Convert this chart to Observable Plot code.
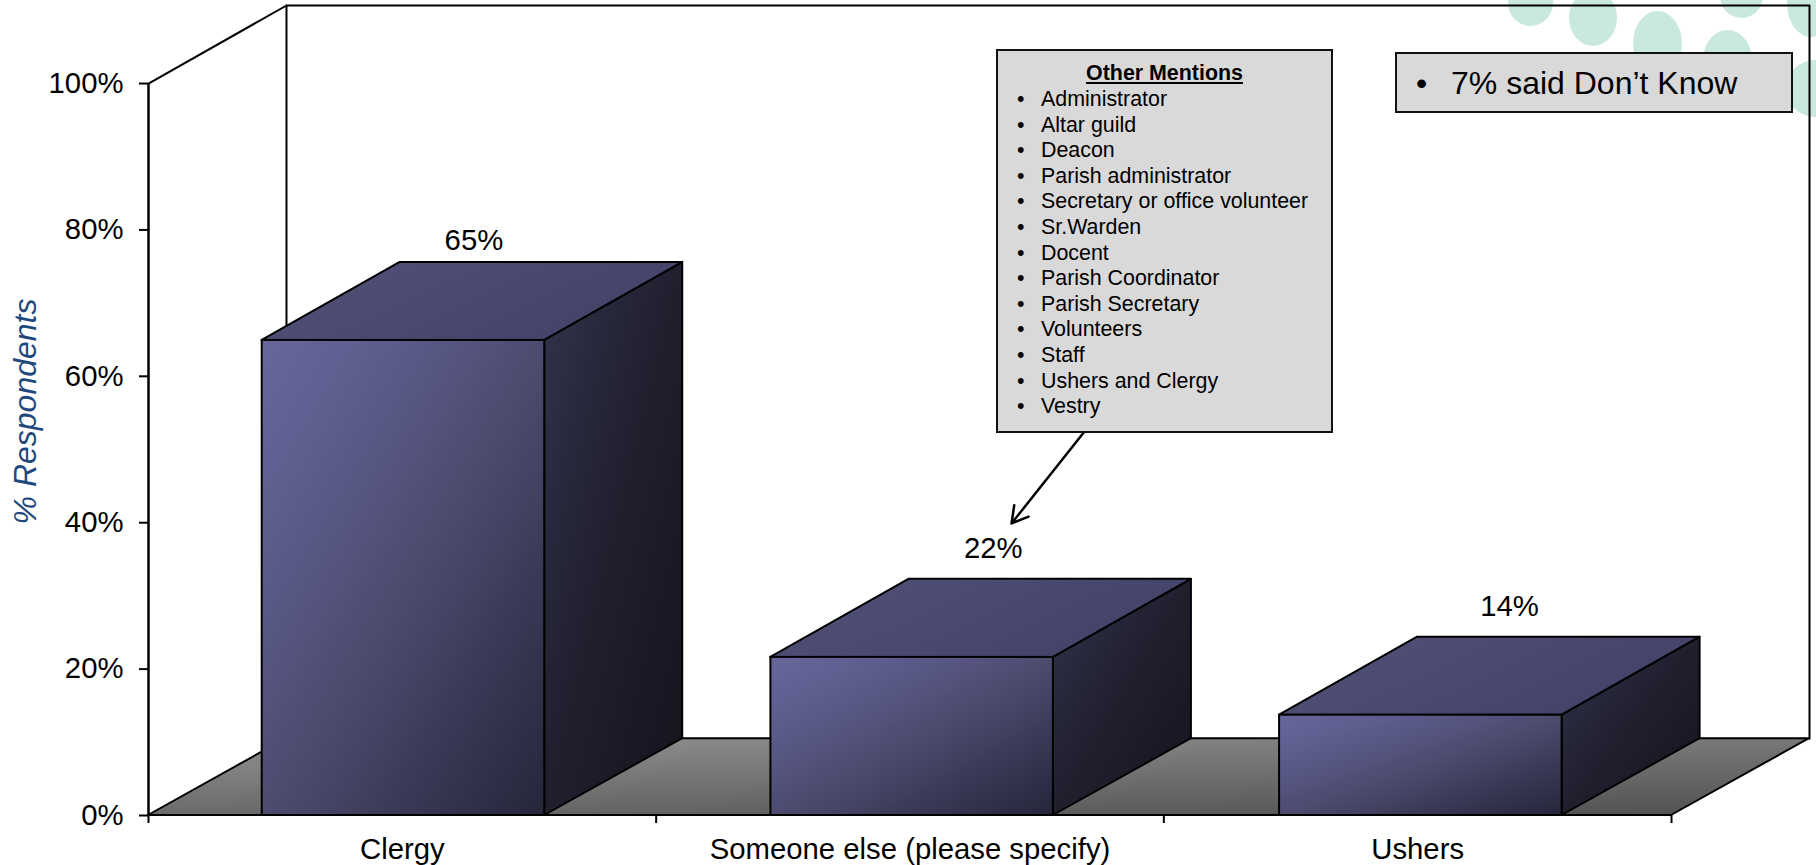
<!DOCTYPE html>
<html>
<head>
<meta charset="utf-8">
<script src="https://cdn.jsdelivr.net/npm/d3@7"></script>
<script src="https://cdn.jsdelivr.net/npm/@observablehq/plot@0.6"></script>
<style>
html,body{margin:0;padding:0;background:#fff;width:1816px;height:865px;overflow:hidden;font-family:"Liberation Sans",Arial,sans-serif;}
#stage{position:relative;width:1816px;height:865px;overflow:hidden;}
#chart{position:absolute;left:0;top:0;}
.blob{position:absolute;background:#c9e9dd;border-radius:50%;filter:blur(.6px);}
.box{position:absolute;box-sizing:border-box;background:#d9d9d9;border:2px solid #111;color:#000;}
#others{left:996px;top:49px;width:337px;height:384px;font-size:21.4px;}
#others .ttl{position:absolute;left:0;right:0;top:10px;text-align:center;font-weight:bold;text-decoration:underline;line-height:25.6px;}
#others .row{position:absolute;left:43px;white-space:nowrap;line-height:25.6px;}
#others .row::before{content:"•";position:absolute;left:-24px;}
#dk{left:1395px;top:52px;width:398px;height:61px;font-size:32px;line-height:59px;white-space:nowrap;}
#dk .b{position:absolute;left:19px;}
#dk .t{position:absolute;left:54px;}
</style>
</head>
<body>
<div id="stage"></div>
<script>
const categories = ["Clergy", "Someone else (please specify)", "Ushers"];
const shares = [64.9, 21.6, 13.7];
const labelX = [0.641, 1.664, 2.681];
const labelY = [78.6, 36.4, 28.5];
const yTicks = [0, 20, 40, 60, 80, 100];
const xTicks = [0, 1, 2, 3];
const mentions = ["Administrator", "Altar guild", "Deacon", "Parish administrator", "Secretary or office volunteer", "Sr.Warden", "Docent", "Parish Coordinator", "Parish Secretary", "Volunteers", "Staff", "Ushers and Clergy", "Vestry"];
const depthX = 0.2718, depthY = 10.66, floorDepthY = 10.5, barStart = 0.224, barStep = 1.002, barWidth = 0.5565;
const arrowFrom = [1.843, 52.4], arrowTo = [1.70, 39.9];

const stage = d3.select("#stage");
// decorative background blobs
[[1508,-20,45,46],[1569,-10,48,56],[1633,11,49,65],[1703,30,49,60],[1720,-25,43,43],[1787,-30,48,67],[1786,60,58,57]].forEach(([l,t,w,h]) => {
  stage.append("div").attr("class","blob").style("left",l+"px").style("top",t+"px").style("width",w+"px").style("height",h+"px");
});

const bars = shares.map((v,i)=>({i,v,x1:i*barStep+barStart,x2:i*barStep+barStart+barWidth,cat:categories[i],lx:labelX[i],ly:labelY[i]}));
const sidePts = bars.flatMap(b=>[
  {bar:b.i,x:b.x2,y1:0,y2:b.v},
  {bar:b.i,x:b.x2+depthX,y1:floorDepthY,y2:b.v+depthY}]);
const topPts = bars.flatMap(b=>[
  {bar:b.i,y:b.v,x1:b.x1,x2:b.x2},
  {bar:b.i,y:b.v+depthY,x1:b.x1+depthX,x2:b.x2+depthX}]);
const floorPts = [{y:0,x1:0,x2:3},{y:floorDepthY,x1:depthX,x2:3+depthX}];
const wallA = [[0,0],[0,100],[depthX,100+depthY],[depthX,floorDepthY]];
const wallB = [[depthX,100+depthY],[3+depthX,100+depthY],[3+depthX,floorDepthY]];

function grad(defs,id,stops,x2=1,y2=1){
  const g = defs.append("linearGradient").attr("id",id).attr("x1",0).attr("y1",0).attr("x2",x2).attr("y2",y2);
  stops.forEach(([o,c])=>g.append("stop").attr("offset",o).attr("stop-color",c));
}
const defsMark = () => {
  const defs = d3.create("svg:defs");
  grad(defs,"gFront",[[0,"#67679b"],[0.25,"#5b5b8b"],[0.5,"#4c4c70"],[1,"#25253a"]]);
  grad(defs,"gSide",[[0,"#33334d"],[0.5,"#1f1f2e"],[1,"#14141e"]]);
  grad(defs,"gTop",[[0,"#525278"],[1,"#43436a"]],1,0.4);
  grad(defs,"gFloor",[[0,"#939393"],[1,"#505050"]],0.763,1.156);
  return defs.node();
};
const ink = "#000";
const chart = Plot.plot({
  width:1816, height:865,
  marginLeft:148, marginRight:7, marginTop:5, marginBottom:50,
  style:{fontFamily:'"Liberation Sans",Arial,sans-serif',background:"transparent",color:"#000",overflow:"visible"},
  x:{domain:[0,3+depthX]},
  y:{domain:[0,100+depthY]},
  marks:[
    defsMark,
    Plot.area(floorPts,{y1:"y",x1:"x1",x2:"x2",fill:"url(#gFloor)",stroke:ink,strokeWidth:2}),
    Plot.line(wallA,{stroke:ink,strokeWidth:2}),
    Plot.line(wallB,{stroke:ink,strokeWidth:2}),
    Plot.ruleX([0],{y1:0,y2:100,stroke:ink,strokeWidth:2}),
    Plot.axisY({ticks:yTicks,tickFormat:d=>d+"%",tickSize:9,tickPadding:16,fontSize:29.3,stroke:ink,strokeWidth:2,label:null,strokeOpacity:1}),
    Plot.axisX({ticks:xTicks,tickFormat:()=>"",tickSize:8,stroke:ink,strokeWidth:2,label:null,strokeOpacity:1}),
    Plot.area(sidePts,{x1:"x",y1:"y1",y2:"y2",z:"bar",fill:"url(#gSide)",stroke:ink,strokeWidth:2}),
    Plot.area(topPts,{y1:"y",x1:"x1",x2:"x2",z:"bar",fill:"url(#gTop)",stroke:ink,strokeWidth:2}),
    Plot.rect(bars,{x1:"x1",x2:"x2",y1:0,y2:"v",fill:"url(#gFront)",stroke:ink,strokeWidth:2}),
    Plot.text(bars,{x:"lx",y:"ly",text:b=>Math.round(b.v)+"%",fontSize:29.3,fill:ink}),
    Plot.text(bars,{x:b=>b.i+0.5,y:0,text:"cat",dy:34,fontSize:29.3,fill:ink}),
    Plot.text(["% Respondents"],{frameAnchor:"left",textAnchor:"middle",dx:-123,dy:1,rotate:-90,fontSize:32,fontStyle:"italic",fill:"#1f497d"}),
    Plot.arrow([{a:arrowFrom,b:arrowTo}],{x1:d=>d.a[0],y1:d=>d.a[1],x2:d=>d.b[0],y2:d=>d.b[1],stroke:ink,strokeWidth:2.5,headLength:11,bend:0,insetStart:0,insetEnd:0})
  ]
});
chart.id="chart";
stage.node().appendChild(chart);

const oth = stage.append("div").attr("class","box").attr("id","others");
oth.append("div").attr("class","ttl").text("Other Mentions");
mentions.forEach((m,i)=>oth.append("div").attr("class","row").style("top",(36+i*25.6)+"px").text(m));
const dk = stage.append("div").attr("class","box").attr("id","dk");
dk.append("span").attr("class","b").text("•");
dk.append("span").attr("class","t").text("7% said Don’t Know");
</script>
</body>
</html>
